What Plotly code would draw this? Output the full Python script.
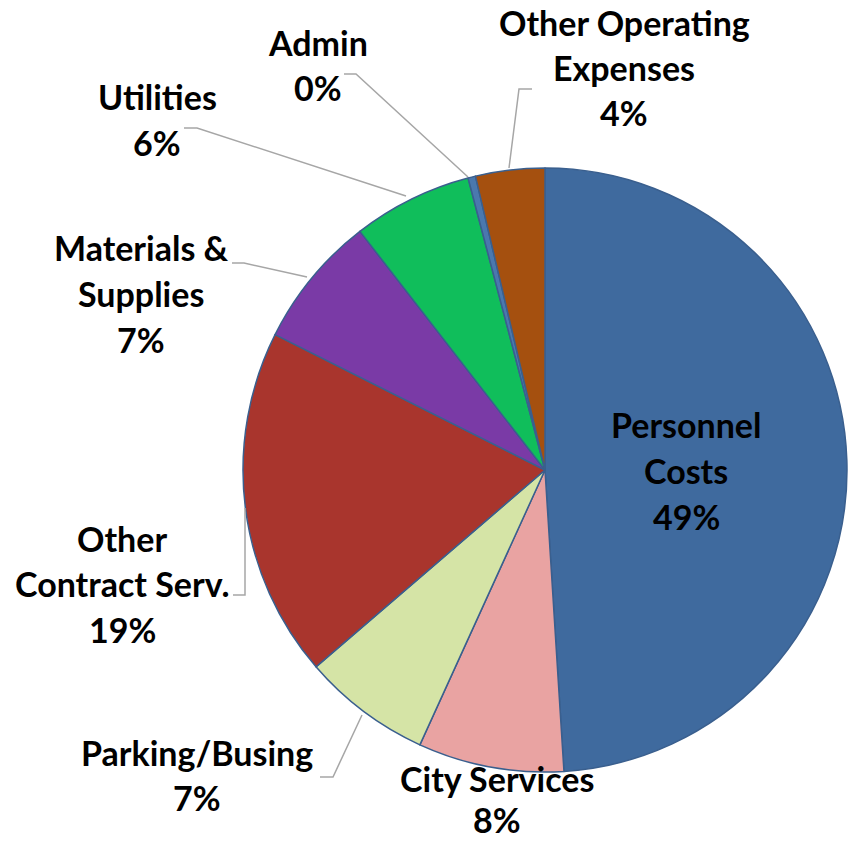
import plotly.graph_objects as go

# ---- data ----
categories = ["Personnel Costs", "City Services", "Parking/Busing", "Other Contract Serv.",
              "Materials & Supplies", "Utilities", "Admin", "Other Operating Expenses"]
values = [49.0, 7.8, 6.9, 18.7, 7.1, 6.4, 0.4, 3.7]
label_lines = [["Personnel", "Costs"], ["City Services"], ["Parking/Busing"],
               ["Other", "Contract Serv."], ["Materials &", "Supplies"], ["Utilities"],
               ["Admin"], ["Other Operating", "Expenses"]]
colors = ["#3F6A9E", "#E9A3A2", "#D5E4A6", "#A9352D", "#7A3AA6", "#10BE5B", "#4A78AE", "#A5500F"]

W, H = 855, 841
CX, CY, R = 545, 470, 302

def px(x):
    return x / W

def py(y):
    return 1 - y / H

fig = go.Figure()
fig.add_trace(go.Pie(
    labels=categories, values=values, sort=False, direction="clockwise", rotation=0,
    marker=dict(colors=colors, line=dict(color="#3A5F8E", width=1.5)),
    textinfo="none", hoverinfo="label+percent", showlegend=False,
    domain=dict(x=[px(CX - R), px(CX + R)], y=[py(CY + R), py(CY - R)]),
))

# label placement (layout only): (center x, first line y, line spacing)
label_pos = {
    "Personnel Costs": (686, 425, 45.5),
    "City Services": (497, 778, 41),
    "Parking/Busing": (197, 752, 45.5),
    "Other Contract Serv.": (122, 538, 45.5),
    "Materials & Supplies": (141, 248, 45.5),
    "Utilities": (157, 97, 45.5),
    "Admin": (318, 42, 45.5),
    "Other Operating Expenses": (624, 22, 45.5),
}
total = sum(values)
annotations = []
for cat, lines, v in zip(categories, label_lines, values):
    pct = f"{round(v / total * 100):.0f}%"
    all_lines = lines + [pct]
    x0, y0, lh = label_pos[cat]
    for i, t in enumerate(all_lines):
        annotations.append(dict(
            x=px(x0), y=py(y0 + i * lh), xref="paper", yref="paper",
            text=f"<b>{t}</b>", showarrow=False, xanchor="center", yanchor="middle",
            borderpad=0,
            font=dict(family="Lato, Calibri, sans-serif", size=34, color="#000000"),
        ))

# leader lines (layout only)
leaders = [
    [(344, 74), (356, 74), (468, 177)],          # Admin
    [(532, 89), (519, 89), (509, 168)],          # Other Operating
    [(184, 128), (197, 128), (406, 196)],        # Utilities
    [(232, 263), (244, 263), (307, 277)],        # Materials
    [(233, 595), (245, 595), (245, 508)],        # Other Contract
    [(320, 777), (333, 777), (362, 715)],        # Parking
]
shapes = []
for pts in leaders:
    path = "M " + " L ".join(f"{px(x)},{py(y)}" for x, y in pts)
    shapes.append(dict(type="path", path=path, xref="paper", yref="paper",
                       line=dict(color="#A6A6A6", width=1.5)))

fig.update_layout(
    width=W, height=H, margin=dict(l=0, r=0, t=0, b=0),
    paper_bgcolor="white", plot_bgcolor="white",
    annotations=annotations, shapes=shapes,
)

fig.write_html("out.html")
